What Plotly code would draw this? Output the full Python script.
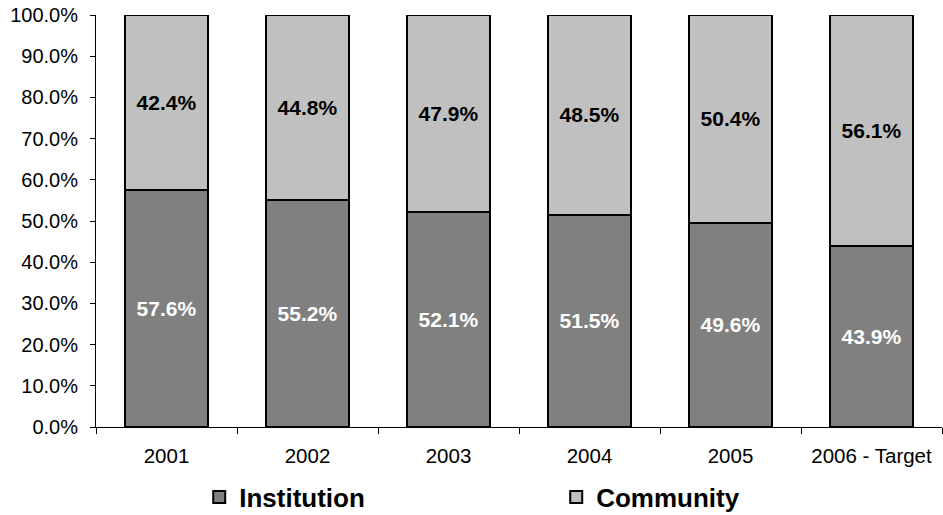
import plotly.graph_objects as go

years = ["2001", "2002", "2003", "2004", "2005", "2006 - Target"]
institution = [57.6, 55.2, 52.1, 51.5, 49.6, 43.9]
community = [42.4, 44.8, 47.9, 48.5, 50.4, 56.1]

FONT = "Liberation Sans, Arial, sans-serif"

fig = go.Figure()
fig.add_trace(go.Bar(
    x=years, y=institution, name="Institution",
    marker=dict(color="#808080", line=dict(color="#000000", width=2)),
    texttemplate="%{y:.1f}%", textposition="inside", insidetextanchor="middle",
    textangle=0,
    textfont=dict(family=FONT, size=21, color="#ffffff", weight="bold"),
))
fig.add_trace(go.Bar(
    x=years, y=community, name="Community",
    marker=dict(color="#C0C0C0", line=dict(color="#000000", width=2)),
    texttemplate="%{y:.1f}%", textposition="inside", insidetextanchor="middle",
    textangle=0,
    textfont=dict(family=FONT, size=21, color="#000000", weight="bold"),
))

fig.update_layout(
    barmode="stack",
    bargap=0.41,
    width=943, height=515,
    margin=dict(l=96, r=1, t=15, b=88, autoexpand=False),
    paper_bgcolor="white", plot_bgcolor="white",
    font=dict(family=FONT, size=20, color="#000000"),
    showlegend=True,
    legend=dict(
        orientation="h", x=0.122, xanchor="left", y=-0.17, yanchor="middle",
        font=dict(family=FONT, size=26, color="#000000", weight="bold"),
        entrywidth=312, entrywidthmode="pixels",
        traceorder="normal",
        bgcolor="rgba(0,0,0,0)",
    ),
    xaxis=dict(
        showline=True, linecolor="#000000", linewidth=1,
        ticks="outside", tickson="boundaries", ticklen=6, tickcolor="#000000",
        showgrid=False, ticklabelstandoff=10,
        tickfont=dict(family=FONT, size=20.5),
    ),
    yaxis=dict(
        range=[0, 100], dtick=10, tickformat=".1f", ticksuffix="%",
        showline=True, linecolor="#000000", linewidth=1,
        ticks="outside", ticklen=5, tickcolor="#000000",
        showgrid=False, zeroline=False, ticklabelstandoff=8,
        tickfont=dict(family=FONT, size=20),
    ),
)

fig.write_html("out.html")
